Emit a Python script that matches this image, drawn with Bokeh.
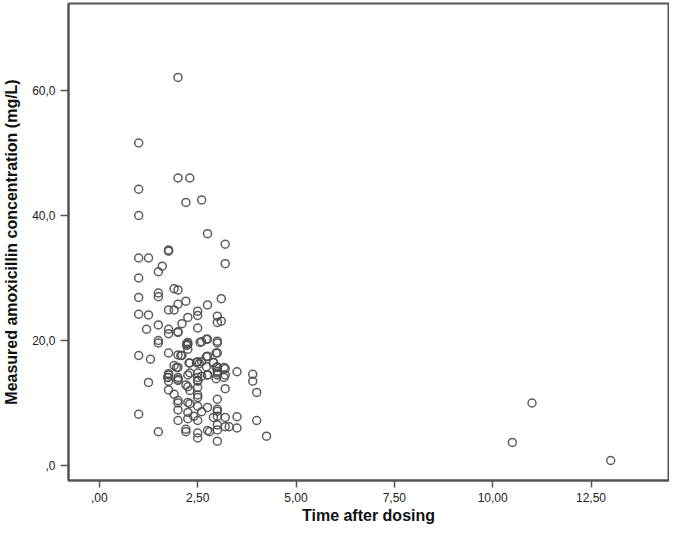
import numpy as np
from bokeh.plotting import figure
from bokeh.models import FixedTicker, ColumnDataSource
from bokeh.embed import file_html
from bokeh.resources import INLINE

time_h = [2.0, 1.0, 2.0, 2.3, 1.0, 2.2, 2.6, 1.0, 2.75, 3.2,
          1.76, 1.76, 1.0, 1.25, 3.2, 1.6, 1.5, 1.0, 1.9, 2.0,
          1.5, 1.5, 1.0, 3.1, 2.2, 2.75, 2.0, 1.76, 1.9, 2.5,
          2.5, 1.0, 1.25, 2.25, 3.0, 3.0, 3.1, 2.1, 1.5, 2.5,
          1.2, 1.76, 1.76, 2.0, 2.75, 2.6, 1.5, 1.5, 2.25, 2.25,
          3.0, 3.0, 2.25, 1.76, 3.0, 1.0, 2.0, 2.1, 2.75, 1.3,
          2.5, 2.6, 2.3, 2.9, 1.9, 2.0, 3.0, 3.2, 3.5, 1.76,
          1.76, 2.5, 3.0, 3.0, 3.0, 3.9, 2.0, 2.0, 2.3, 2.75,
          3.2, 2.6, 2.5, 1.76, 1.25, 3.9, 2.2, 2.5, 1.76, 3.2,
          2.3, 4.0, 1.9, 2.5, 2.5, 3.0, 2.0, 2.0, 2.25, 2.3,
          11.0, 2.5, 2.75, 3.0, 3.0, 2.0, 2.6, 2.25, 1.0, 2.4,
          3.0, 2.9, 3.2, 3.5, 2.25, 2.0, 2.5, 4.0, 3.0, 3.2,
          3.3, 3.5, 2.2, 2.2, 1.5, 2.75, 2.8, 2.5, 3.0, 4.25,
          2.5, 3.0, 10.5, 13.0, 2.0, 2.22, 2.22, 2.56, 2.72, 2.97,
          2.72, 2.07, 1.96, 2.28, 2.47, 2.54, 2.72, 2.9, 2.97, 3.17,
          1.74, 2.0, 2.25, 2.5, 2.75, 2.97, 3.17, 1.74, 2.5, 2.25]
conc_mg_l = [62.1, 51.6, 46.0, 46.0, 44.2, 42.1, 42.5, 40.0, 37.1, 35.4,
             34.5, 34.3, 33.2, 33.2, 32.3, 31.9, 31.0, 30.0, 28.3, 28.1,
             27.6, 27.0, 26.9, 26.7, 26.3, 25.7, 25.8, 24.9, 24.9, 24.7,
             24.0, 24.2, 24.1, 23.7, 23.9, 22.9, 23.1, 22.7, 22.5, 22.0,
             21.8, 21.8, 21.1, 21.4, 20.2, 19.8, 20.0, 19.6, 19.7, 19.4,
             19.9, 19.6, 18.6, 18.0, 18.0, 17.6, 17.7, 17.6, 17.5, 17.0,
             16.6, 16.6, 16.4, 16.5, 16.0, 15.7, 15.8, 15.5, 15.0, 14.7,
             14.5, 14.8, 15.1, 14.8, 14.5, 14.6, 14.1, 13.8, 14.8, 14.5,
             14.5, 14.3, 13.6, 13.5, 13.3, 13.5, 12.9, 12.5, 12.1, 12.3,
             12.0, 11.7, 11.4, 11.3, 10.9, 10.6, 10.4, 10.0, 10.1, 9.9,
             10.0, 9.5, 9.3, 9.0, 8.7, 8.9, 8.6, 8.5, 8.2, 7.9,
             7.9, 7.7, 7.7, 7.8, 7.5, 7.2, 7.2, 7.2, 6.5, 6.2,
             6.2, 6.0, 5.8, 5.4, 5.4, 5.6, 5.4, 5.2, 5.7, 4.7,
             4.4, 3.9, 3.7, 0.8, 21.3, 19.5, 19.2, 19.7, 20.2, 18.0,
             17.4, 17.6, 15.7, 16.4, 16.5, 16.3, 15.8, 16.5, 15.7, 15.7,
             14.1, 13.6, 14.5, 14.1, 14.5, 13.9, 14.1, 14.1, 13.5, 12.6]

x_ticks = [0, 2.5, 5, 7.5, 10, 12.5]
x_tick_labels = [",00", "2,50", "5,00", "7,50", "10,00", "12,50"]
y_ticks = [0, 20, 40, 60]
y_tick_labels = [",0", "20,0", "40,0", "60,0"]

src = ColumnDataSource(data=dict(t=time_h, c=conc_mg_l))

p = figure(width=669, height=527, output_backend="svg", toolbar_location=None,
           x_range=(-0.784, 14.47), y_range=(-2.4, 73.92),
           min_border_left=65, min_border_right=1, min_border_top=3, min_border_bottom=47)
p.background_fill_color = "white"
p.border_fill_color = "white"
p.outline_line_color = "#555555"
p.outline_line_width = 2
p.grid.visible = False

p.scatter("t", "c", source=src, marker="circle", size=8, fill_color=None,
          line_color="#4a4a4a", line_width=1.5, line_alpha=0.9)

font = "Liberation Sans"
for ax in (p.xaxis[0], p.yaxis[0]):
    ax.axis_line_color = "#555555"
    ax.axis_line_width = 2
    ax.major_tick_line_color = "#555555"
    ax.major_tick_line_width = 1.5
    ax.major_tick_in = 0
    ax.minor_tick_line_color = None
    ax.major_label_text_font = font
    ax.major_label_text_font_size = "12px"
    ax.major_label_text_color = "#222222"
    ax.axis_label_text_font = font
    ax.axis_label_text_font_style = "bold"
    ax.axis_label_text_font_size = "16px"
    ax.axis_label_text_color = "#111111"

p.xaxis.major_tick_out = 7
p.yaxis.major_tick_out = 8
p.xaxis.ticker = FixedTicker(ticks=x_ticks)
p.xaxis.major_label_overrides = {t: l for t, l in zip(x_ticks, x_tick_labels)}
p.yaxis.ticker = FixedTicker(ticks=y_ticks)
p.yaxis.major_label_overrides = {t: l for t, l in zip(y_ticks, y_tick_labels)}
p.xaxis.axis_label = "Time after dosing"
p.yaxis.axis_label = "Measured amoxicillin concentration (mg/L)"
p.xaxis.major_label_standoff = 5
p.yaxis.major_label_standoff = 5
p.xaxis.axis_label_standoff = 2
p.yaxis.axis_label_standoff = 9

open("out.html", "w").write(file_html(p, INLINE))
